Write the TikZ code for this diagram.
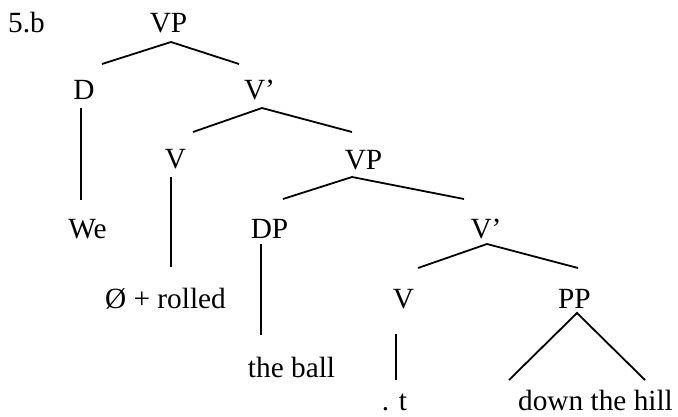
\documentclass[tikz,border=0pt]{standalone}
\usepackage{fontspec}
\setmainfont{Liberation Serif}
\begin{document}
\begin{tikzpicture}[x=1pt,y=-1pt,
  lbl/.style={inner sep=0pt,anchor=base,font=\fontsize{29.3}{30}\selectfont},
  branch/.style={line width=1.8pt,line cap=butt}]
\useasboundingbox (0,0) rectangle (678,416);
% labels
\node[lbl,anchor=base west] (ex) at (8,32) {5.b};
\node[lbl] (vpA) at (168.5,32) {VP};
\node[lbl] (d) at (84,99) {D};
\node[lbl] (vbarA) at (259.5,99) {V’};
\node[lbl] (vA) at (175.5,168) {V};
\node[lbl] (vpB) at (363.5,169) {VP};
\node[lbl] (we) at (87.5,238) {We};
\node[lbl] (dp) at (269.5,238) {DP};
\node[lbl] (vbarB) at (486,238) {V’};
\node[lbl] (rolled) at (165.5,308) {Ø + rolled};
\node[lbl] (vB) at (403.5,308) {V};
\node[lbl] (pp) at (574.5,308) {PP};
\node[lbl] (ball) at (291.5,377) {the ball};
\node[lbl] (t) at (394.5,410) {. t};
\node[lbl] (hill) at (595.5,410) {down the hill};
% branch points
\coordinate (vpAtop) at (171,42);
\coordinate (vpAl) at (102,64);
\coordinate (vpAr) at (239,64);
\coordinate (dtop) at (81,108);
\coordinate (dbot) at (81,200);
\coordinate (vbarAtop) at (262,108);
\coordinate (vbarAl) at (193,132);
\coordinate (vbarAr) at (352,132);
\coordinate (vAtop) at (171,177);
\coordinate (vAbot) at (171,267);
\coordinate (vpBtop) at (352,177);
\coordinate (vpBl) at (283,199);
\coordinate (vpBr) at (464,199);
\coordinate (dptop) at (261,244);
\coordinate (dpbot) at (261,335);
\coordinate (vbarBtop) at (487,244);
\coordinate (vbarBl) at (418,268);
\coordinate (vbarBr) at (578,268);
\coordinate (vBtop) at (396,334);
\coordinate (vBbot) at (396,380);
\coordinate (pptop) at (577,313);
\coordinate (ppl) at (509,380);
\coordinate (ppr) at (645,380);
% branches
\draw[branch] (vpAl) -- (vpAtop) -- (vpAr);
\draw[branch] (dtop) -- (dbot);
\draw[branch] (vbarAl) -- (vbarAtop) -- (vbarAr);
\draw[branch] (vAtop) -- (vAbot);
\draw[branch] (vpBl) -- (vpBtop) -- (vpBr);
\draw[branch] (dptop) -- (dpbot);
\draw[branch] (vbarBl) -- (vbarBtop) -- (vbarBr);
\draw[branch] (vBtop) -- (vBbot);
\draw[branch] (ppl) -- (pptop) -- (ppr);
\end{tikzpicture}
\end{document}
